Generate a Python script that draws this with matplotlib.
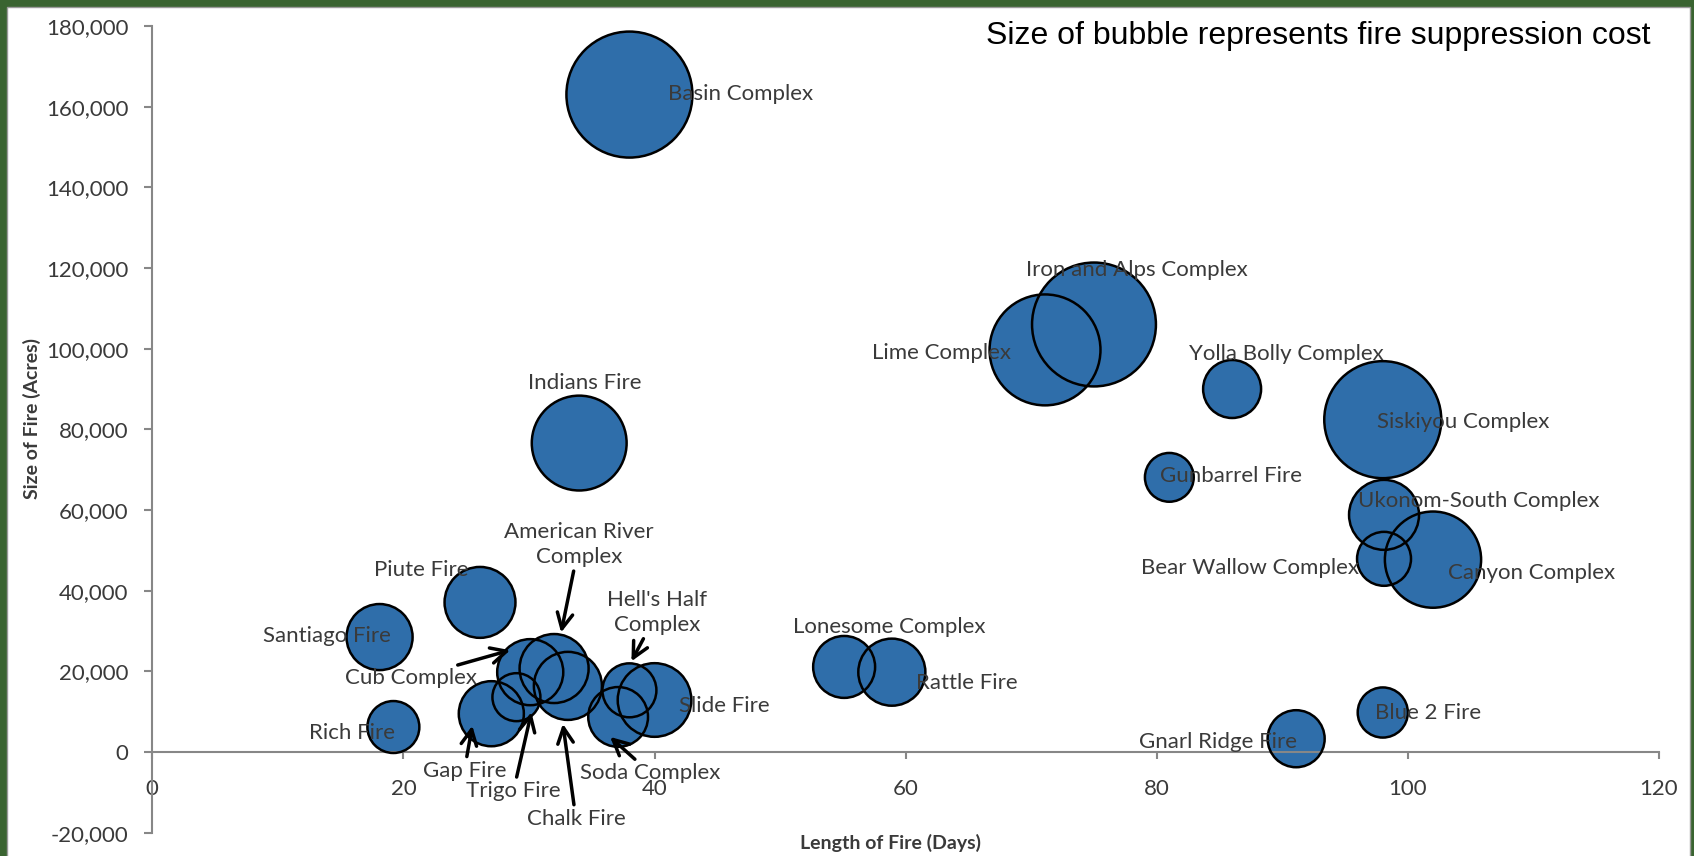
import matplotlib
matplotlib.use('Agg')
import matplotlib.pyplot as plt
from matplotlib.patches import Rectangle
from matplotlib.transforms import offset_copy
import numpy as np

# ---------------- data ----------------
names = ["Basin Complex", "Iron and Alps Complex", "Lime Complex", "Yolla Bolly Complex",
         "Siskiyou Complex", "Indians Fire", "Gunbarrel Fire", "Ukonom-South Complex",
         "Bear Wallow Complex", "Canyon Complex", "Piute Fire", "Santiago Fire",
         "Lonesome Complex", "Rattle Fire", "American River Complex", "Cub Complex",
         "Chalk Fire", "Hell's Half Complex", "Trigo Fire", "Slide Fire", "Gap Fire",
         "Soda Complex", "Blue 2 Fire", "Rich Fire", "Gnarl Ridge Fire"]
days = [38.0, 75.0, 71.1, 86.0, 98.0, 34.0, 81.0, 98.1, 98.1, 102.0, 26.1, 18.1,
        55.1, 58.9, 32.0, 30.1, 33.1, 38.0, 29.0, 40.0, 27.0, 37.1, 98.0, 19.2, 91.1]
acres = [163000, 106000, 99700, 90000, 82400, 76600, 68100, 58800, 47900, 47700,
         37100, 28500, 21100, 19800, 20700, 19800, 16400, 15300, 13600, 12900,
         9500, 8700, 9800, 6200, 3300]
cost_musd = [120, 116, 93, 25.4, 103.5, 68, 18, 37, 22, 70, 38, 33, 29, 34, 36, 33,
             35, 22, 17.4, 41, 32, 27, 19, 20.4, 24.6]

x_ticks = [0, 20, 40, 60, 80, 100, 120]
y_ticks = [-20000, 0, 20000, 40000, 60000, 80000, 100000, 120000, 140000, 160000, 180000]

# label placement (pixel offsets from bubble centre, y up)
label_offsets = {
    "Basin Complex": (111, 1), "Indians Fire": (6, 60), "Iron and Alps Complex": (43, 54),
    "Lime Complex": (-104, -3), "Yolla Bolly Complex": (54, 35), "Siskiyou Complex": (80, -2),
    "Gunbarrel Fire": (62, 1), "Ukonom-South Complex": (95, 14), "Bear Wallow Complex": (-134, -9),
    "Canyon Complex": (99, -13), "Blue 2 Fire": (45, 0), "Gnarl Ridge Fire": (-78, -3),
    "Lonesome Complex": (45, 40), "Rattle Fire": (75, -11), "Slide Fire": (70, -6),
    "Santiago Fire": (-53, 1), "Piute Fire": (-59, 32), "Rich Fire": (-41, -6),
}
# arrow labels: (text, text dx, text dy, tip dx, tip dy)
arrow_labels = {
    "American River Complex": ("American River\nComplex", 25, 124, 7, 36),
    "Hell's Half Complex": ("Hell's Half\nComplex", 28, 78, 2, 29),
    "Cub Complex": ("Cub Complex", -119, -6, -20, 22),
    "Gap Fire": ("Gap Fire", -27, -57, -19, -12),
    "Trigo Fire": ("Trigo Fire", -3, -94, 15, -15),
    "Chalk Fire": ("Chalk Fire", 8, -133, -5, -38),
    "Soda Complex": ("Soda Complex", 32, -56, -8, -20),
}

# ---------------- figure ----------------
DPI = 100
W, H = 1694, 856
fig = plt.figure(figsize=(W / DPI, H / DPI), dpi=DPI)
fig.patch.set_facecolor('#3A6431')
fig.patches.append(Rectangle((7 / W, -0.01), (1690 - 7) / W, 1 - 7 / H + 0.01,
                             transform=fig.transFigure, facecolor='white',
                             edgecolor='#9a9a9a', lw=1, zorder=-5))

ax = fig.add_axes([152.3 / W, (H - 832.7) / H, (1659 - 152.3) / W, (832.7 - 26) / H])
ax.set_facecolor('none')

FONT = 'Lato'
TXT = '#3a3a3a'
AXC = '#878787'

ax.set_xlim(0, 120)
ax.set_ylim(-20000, 180000)

R_MAX = 63.0
cost = np.array(cost_musd, dtype=float)
r_px = R_MAX * np.sqrt(cost / cost.max())
sizes = (2 * r_px * 72 / DPI) ** 2

fill = '#2F6EAA'
ax.scatter(days, acres, s=sizes, c=fill, edgecolors='none', zorder=2, clip_on=False)
ax.scatter(days, acres, s=sizes, facecolors='none', edgecolors='black', linewidths=1.8,
           zorder=3, clip_on=False)

# spines
for s in ['top', 'right']:
    ax.spines[s].set_visible(False)
ax.spines['bottom'].set_position(('data', 0))
ax.spines['bottom'].set_color(AXC)
ax.spines['left'].set_color(AXC)
ax.spines['bottom'].set_linewidth(1.5)
ax.spines['left'].set_linewidth(1.5)

ax.set_xticks(x_ticks)
ax.set_yticks(y_ticks)
ax.set_xticklabels([str(v) for v in x_ticks])
ax.set_yticklabels([f"{v:,}" for v in y_ticks])
ax.tick_params(axis='x', direction='out', length=5, width=1.5, color=AXC, pad=14.5,
               labelsize=16, labelcolor=TXT)
ax.tick_params(axis='y', direction='out', length=6, width=1.5, color=AXC, pad=11,
               labelsize=16, labelcolor=TXT)
for lab in ax.get_xticklabels() + ax.get_yticklabels():
    lab.set_fontfamily(FONT)

# labels
idx = {n: i for i, n in enumerate(names)}
for n, (dx, dy) in label_offsets.items():
    i = idx[n]
    ax.annotate(n, xy=(days[i], acres[i]), xytext=(dx, dy), textcoords='offset pixels',
                ha='center', va='center', fontsize=16, color=TXT, family=FONT, zorder=5)

for n, (txt, tdx, tdy, adx, ady) in arrow_labels.items():
    i = idx[n]
    tip_tr = offset_copy(ax.transData, fig=fig, x=adx, y=ady, units='dots')
    ax.annotate(txt, xy=(days[i], acres[i]), xycoords=tip_tr,
                xytext=(tdx - adx, tdy - ady), textcoords='offset pixels',
                ha='center', va='center', fontsize=16, color=TXT, family=FONT,
                linespacing=1.3, zorder=5,
                arrowprops=dict(arrowstyle='->', color='black', lw=2.5,
                                mutation_scale=28, shrinkA=1, shrinkB=0))

fig.text(890 / W, 1 - 843 / H, "Length of Fire (Days)", ha='center', va='center',
         fontsize=14, fontweight='bold', color=TXT, family=FONT)
fig.text(32 / W, 1 - 419 / H, "Size of Fire (Acres)", ha='center', va='center',
         rotation=90, fontsize=14, fontweight='bold', color=TXT, family=FONT)
fig.text(1650 / W, 1 - 36 / H, "Size of bubble represents fire suppression cost",
         ha='right', va='center', fontsize=23, color='black', family='Liberation Sans')

fig.savefig('out.png', dpi=DPI)
